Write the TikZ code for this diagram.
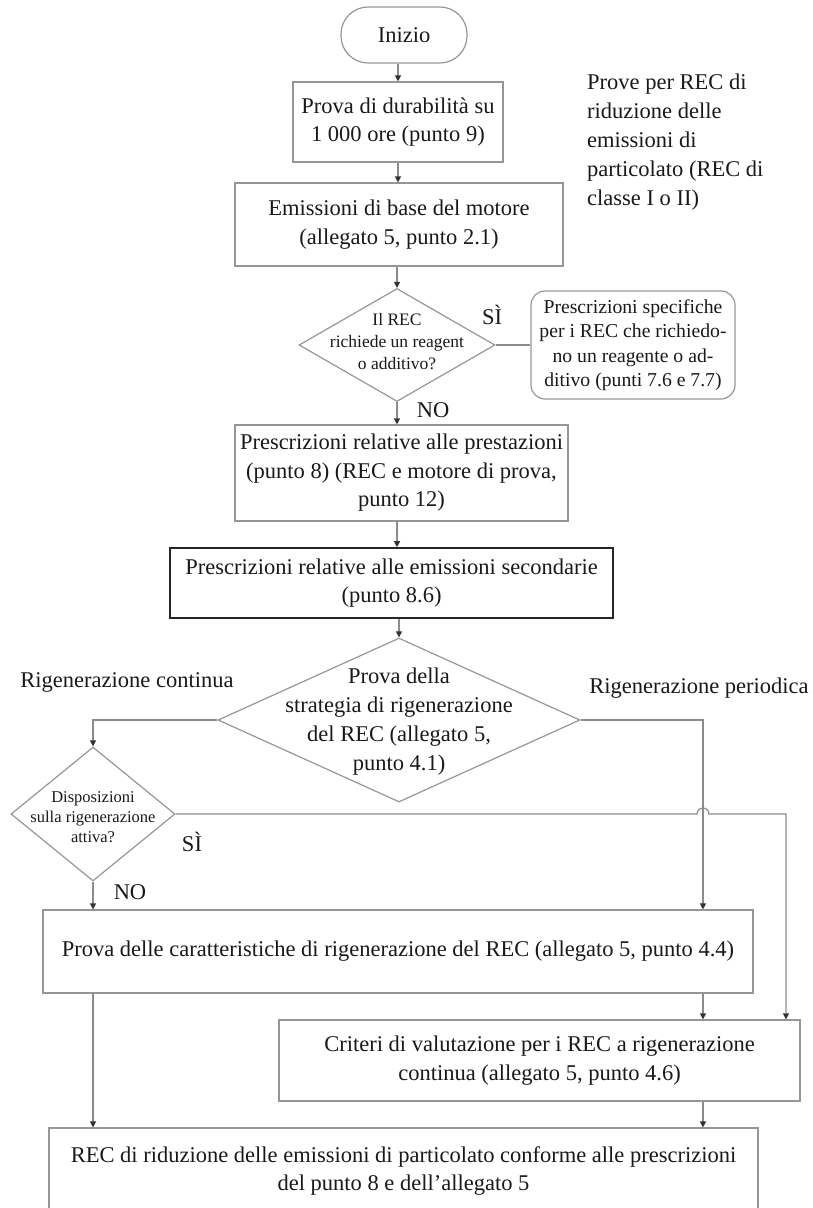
\documentclass[tikz,border=0pt]{standalone}
\usepackage{fontspec}
\setmainfont{Liberation Serif}
\usetikzlibrary{shapes.geometric,arrows.meta,calc}
\newcommand\fsz[2]{\fontsize{#1}{#2}\selectfont}
\definecolor{lc}{RGB}{140,140,140}
\definecolor{bc}{RGB}{150,150,150}
\definecolor{tc}{RGB}{25,25,25}
\tikzset{
  box/.style={draw=bc, line width=1.2pt, rectangle, inner sep=0pt, align=center, text=tc, font=\fsz{22.5}{28.5}},
  secbox/.style={box, draw=black!85, line width=1.6pt},
  rbox/.style={box, rounded corners=14pt, font=\fsz{19.7}{24.5}},
  termbox/.style={box, rounded corners=27pt},
  dia/.style={draw=bc, line width=1.2pt, diamond, inner sep=0pt},
  dtext/.style={align=center, text=tc, inner sep=0pt},
  lbl/.style={text=tc, inner sep=0pt, font=\fsz{22.5}{29}},
  conn/.style={draw=lc, line width=1.2pt},
  arr/.style={conn, -{Triangle[length=6pt,width=6pt,color=black!80]}},
}
\begin{document}
\begin{tikzpicture}[x=1pt,y=-1pt]
\useasboundingbox (0,0) rectangle (813,1208);
% nodes
\node[termbox, minimum width=126, minimum height=56] (start) at (404,35) {Inizio};
\node[box, minimum width=210, minimum height=80] (dur) at (398,122) {Prova di durabilità su\\1 000 ore (punto 9)};
\node[box, minimum width=328, minimum height=83] (base) at (399,224.5) {Emissioni di base del motore\\(allegato 5, punto 2.1)};
\node[dia, minimum width=196, minimum height=113] (d1) at (397,345) {};
\node[dtext, font=\fsz{17.5}{22}] (d1t) at (397,342) {Il REC\\richiede un reagent\\o additivo?};
\node[rbox, minimum width=204, minimum height=108] (spec) at (633,345) {Prescrizioni specifiche\\per i REC che richiedo-\\no un reagente o ad-\\ditivo (punti 7.6 e 7.7)};
\node[box, minimum width=333, minimum height=96] (pres) at (401.5,473) {Prescrizioni relative alle prestazioni\\(punto 8) (REC e motore di prova,\\punto 12)};
\node[secbox, minimum width=443, minimum height=70] (sec) at (391.5,583) {Prescrizioni relative alle emissioni secondarie\\(punto 8.6)};
\node[dia, minimum width=362, minimum height=164] (d2) at (399,720) {};
\node[dtext, font=\fsz{22.5}{29}] (d2t) at (399,722) {Prova della\\strategia di rigenerazione\\del REC (allegato 5,\\punto 4.1)};
\node[dia, minimum width=164, minimum height=134] (d3) at (93,814) {};
\node[dtext, font=\fsz{16.5}{20}] (d3t) at (93,817) {Disposizioni\\sulla rigenerazione\\attiva?};
\node[box, minimum width=710, minimum height=83] (test) at (398,951.5) {Prova delle caratteristiche di rigenerazione del REC (allegato 5, punto 4.4)};
\node[box, minimum width=521, minimum height=81] (crit) at (539.5,1060.5) {Criteri di valutazione per i REC a rigenerazione\\continua (allegato 5, punto 4.6)};
\node[box, minimum width=709, minimum height=86] (final) at (403.5,1171) {REC di riduzione delle emissioni di particolato conforme alle prescrizioni\\del punto 8 e dell’allegato 5};
% labels
\node[lbl, anchor=north west, align=left] (side) at (587,74) {Prove per REC di\\riduzione delle\\emissioni di\\particolato (REC di\\classe I o II)};
\node[lbl] (si1) at (492,315) {SÌ};
\node[lbl] (no1) at (433,410) {NO};
\node[lbl] (rc) at (127,682) {Rigenerazione continua};
\node[lbl] (rp) at (699,688) {Rigenerazione periodica};
\node[lbl] (si2) at (192,842) {SÌ};
\node[lbl] (no2) at (130,892) {NO};
% x columns
\coordinate (xl) at (93,0);
\coordinate (xr) at (703,0);
\coordinate (xrr) at (786,0);
% connectors
\draw[arr] (start.south -| dur.north) -- (dur.north);
\draw[arr] (dur.south) -- (base.north -| dur.south);
\draw[arr] (base.south -| d1.north) -- (d1.north);
\draw[conn] (d1.east) -- (spec.west |- d1.east);
\draw[arr] (d1.south) -- (pres.north -| d1.south);
\draw[arr] (pres.south -| sec.north -| d1.south) -- (sec.north -| d1.south);
\draw[arr] (sec.south -| d2.north) -- (d2.north);
\draw[arr] (d2.west) -| (d3.north);
\draw[arr] (d2.east) -| (test.north -| xr);
\draw[arr] (d3.south) -- (test.north -| d3.south);
\draw[arr] (d3.east) -- ($(d3.east -| xr)+(-6,0)$) arc[start angle=180, end angle=360, radius=6] -- (d3.east -| xrr) -- (crit.north -| xrr);
\draw[arr] (test.south -| xl) -- (final.north -| xl);
\draw[arr] (test.south -| xr) -- (crit.north -| xr);
\draw[arr] (crit.south -| xr) -- (final.north -| xr);
\end{tikzpicture}
\end{document}
